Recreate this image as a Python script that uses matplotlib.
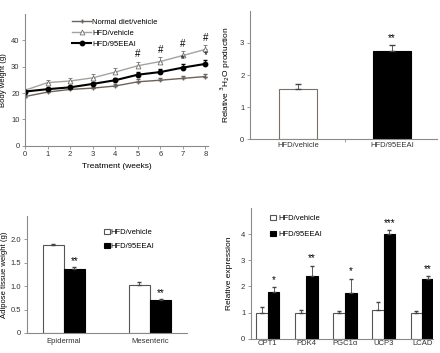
import matplotlib
matplotlib.use("Agg")
import matplotlib.pyplot as plt
import numpy as np

plt.rcParams['font.family'] = ['Liberation Sans', 'DejaVu Sans']
plt.rcParams['font.size'] = 6

# Panel A: body weight
weeks = [0, 1, 2, 3, 4, 5, 6, 7, 8]
normal = [18.7, 20.4, 21.4, 21.9, 22.7, 24.3, 24.9, 25.6, 26.3]
normal_err = [0.5, 0.6, 0.6, 0.6, 0.7, 0.9, 1.0, 1.0, 1.1]
hfd_veh = [21.1, 24.0, 24.6, 25.8, 28.0, 30.4, 32.0, 34.3, 36.6]
hfd_veh_err = [0.5, 0.8, 1.2, 1.3, 1.6, 1.6, 1.7, 1.7, 1.8]
hfd_eeai = [20.6, 21.5, 22.2, 23.5, 24.9, 27.0, 28.0, 29.7, 31.1]
hfd_eeai_err = [0.5, 0.6, 0.6, 0.8, 1.0, 1.1, 1.0, 1.2, 1.4]
hash_weeks = [5, 6, 7, 8]
star_weeks = [7, 8]

# Panel B: 3H2O production
groups_b = ['HFD/vehicle', 'HFD/95EEAI']
prod = [1.55, 2.75]
prod_err = [0.18, 0.2]

# Panel C: adipose tissue weight
tissues = ['Epidermal', 'Mesenteric']
adip_veh = [1.87, 1.03]
adip_veh_err = [0.03, 0.06]
adip_eeai = [1.36, 0.71]
adip_eeai_err = [0.05, 0.02]

# Panel D: relative expression
genes = ['CPT1', 'PDK4', 'PGC1α', 'UCP3', 'LCAD']
expr_veh = [1.0, 1.0, 1.0, 1.1, 1.0]
expr_veh_err = [0.2, 0.1, 0.05, 0.3, 0.08]
expr_eeai = [1.78, 2.4, 1.75, 4.0, 2.3]
expr_eeai_err = [0.2, 0.4, 0.55, 0.15, 0.1]
expr_sig = ['*', '**', '*', '***', '**']

axcol = '#8a8a8a'
fig = plt.figure(figsize=(4.4, 3.53), dpi=100)

def up(err):
    return [np.zeros(len(err)), err]

def style(ax):
    for s in ['top', 'right']:
        ax.spines[s].set_visible(False)
    for s in ['left', 'bottom']:
        ax.spines[s].set_color(axcol)
        ax.spines[s].set_linewidth(0.8)
    ax.tick_params(colors='#333333', length=2, width=0.6, labelsize=5.5, pad=2)
    ax.tick_params(axis='both', color=axcol)

ekw = dict(ecolor='#444444', elinewidth=0.6, capsize=1.5)

# A
ax1 = fig.add_axes([0.057, 0.587, 0.415, 0.373])
l1 = ax1.errorbar(weeks, normal, yerr=up(normal_err), color='#6e625a', marker='+', ms=3, lw=1.0,
                  capsize=1.5, elinewidth=0.6)
l2 = ax1.errorbar(weeks, hfd_veh, yerr=up(hfd_veh_err), color='#a8a29c', marker='^', ms=3.5, mfc='white',
                  mec='#707070', mew=0.6, lw=1.0, capsize=1.5, elinewidth=0.6, ecolor='#707070')
l3 = ax1.errorbar(weeks, hfd_eeai, yerr=up(hfd_eeai_err), color='black', marker='o', ms=3.2, lw=1.5,
                  capsize=1.5, elinewidth=0.6)
for wk in hash_weeks:
    ax1.text(wk, hfd_veh[wk] + hfd_veh_err[wk] + 0.8, '#', ha='center', va='bottom', fontsize=7)
for wk in star_weeks:
    ax1.text(wk, hfd_eeai[wk] + hfd_eeai_err[wk] + 0.1, '*', ha='center', va='bottom', fontsize=7)
ax1.set_xlim(0, 8.1)
ax1.set_ylim(0, 50)
ax1.set_yticks([0, 10, 20, 30, 40])
ax1.set_xticks(weeks)
ax1.set_xlabel('Treatment (weeks)', fontsize=6, labelpad=3)
ax1.set_ylabel('Body weight (g)', fontsize=5.5)
ax1.yaxis.set_label_coords(-0.1, 0.5)
ax1.legend([l1[0], l2[0], l3[0]], ['Normal diet/vehicle', 'HFD/vehicle', 'HFD/95EEAI'],
           loc='upper left', bbox_to_anchor=(0.22, 1.02), frameon=False, fontsize=5.5,
           handlelength=2.5, labelspacing=0.5, handletextpad=0.1)
style(ax1)

# B
ax2 = fig.add_axes([0.568, 0.606, 0.425, 0.363])
xb = np.arange(len(groups_b))
ax2.bar(xb, prod, width=0.4, color=['white', 'black'], edgecolor=['#7a6e66', 'black'], linewidth=0.8,
        yerr=up(prod_err), error_kw=dict(ecolor='#444444', elinewidth=0.6, capsize=2))
ax2.text(1, prod[1] + prod_err[1] + 0.05, '**', ha='center', va='bottom', fontsize=7)
ax2.set_xlim(-0.51, 1.48)
ax2.set_ylim(0, 4)
ax2.set_yticks([0, 1, 2, 3])
ax2.set_xticks(xb)
ax2.set_xticklabels(groups_b, fontsize=6)
ax2.set_xticks([0.5], minor=True)
ax2.set_ylabel(r'Relative $^{3}$H$_{2}$O production', fontsize=6)
ax2.yaxis.set_label_coords(-0.09, 0.5)
style(ax2)
ax2.tick_params(axis='x', which='major', length=0)
ax2.tick_params(axis='x', which='minor', length=2, color=axcol)

# C
ax3 = fig.add_axes([0.061, 0.057, 0.364, 0.331])
xc = np.arange(len(tissues))
w = 0.245
ax3.bar(xc - w / 2, adip_veh, width=w, color='white', edgecolor='#555555', linewidth=0.8,
        yerr=up(adip_veh_err), error_kw=ekw, label='HFD/vehicle')
ax3.bar(xc + w / 2, adip_eeai, width=w, color='black', edgecolor='black', linewidth=0.8,
        yerr=up(adip_eeai_err), error_kw=ekw, label='HFD/95EEAI')
for i in range(len(tissues)):
    ax3.text(xc[i] + w / 2, adip_eeai[i] + adip_eeai_err[i] + 0.02, '**', ha='center', va='bottom', fontsize=7)
ax3.set_xlim(-0.43, 1.43)
ax3.set_ylim(0, 2.5)
ax3.set_yticks([0, 0.5, 1.0, 1.5, 2.0])
ax3.set_yticklabels(['0', '0.5', '1.0', '1.5', '2.0'])
ax3.set_xticks(xc)
ax3.set_xticklabels(tissues, fontsize=6)
ax3.set_ylabel('Adipose tissue weight (g)', fontsize=5.5)
ax3.yaxis.set_label_coords(-0.12, 0.5)
ax3.legend(loc='upper left', bbox_to_anchor=(0.44, 0.95), frameon=False, fontsize=5.5,
           handlelength=0.7, handleheight=0.7, handletextpad=0.1, labelspacing=0.9)
style(ax3)
ax3.tick_params(axis='x', length=0, pad=4)

# D
ax4 = fig.add_axes([0.570, 0.040, 0.414, 0.371])
xd = np.arange(len(genes))
w = 0.3
ax4.bar(xd - w / 2, expr_veh, width=w, color='white', edgecolor='#555555', linewidth=0.8,
        yerr=up(expr_veh_err), error_kw=ekw, label='HFD/vehicle')
ax4.bar(xd + w / 2, expr_eeai, width=w, color='black', edgecolor='black', linewidth=0.8,
        yerr=up(expr_eeai_err), error_kw=ekw, label='HFD/95EEAI')
for i in range(len(genes)):
    ax4.text(xd[i] + w / 2, expr_eeai[i] + expr_eeai_err[i] + 0.08, expr_sig[i], ha='center', va='bottom', fontsize=7)
ax4.set_xlim(-0.44, 4.28)
ax4.set_ylim(0, 5)
ax4.set_yticks([0, 1, 2, 3, 4])
ax4.set_xticks(xd)
ax4.set_xticklabels(genes, fontsize=6)
ax4.set_ylabel('Relative expression', fontsize=6)
ax4.yaxis.set_label_coords(-0.1, 0.5)
ax4.legend(loc='upper left', bbox_to_anchor=(0.07, 1.0), frameon=False, fontsize=5.5,
           handlelength=0.7, handleheight=0.7, handletextpad=0.3, labelspacing=1.1)
style(ax4)
ax4.tick_params(axis='x', length=0, pad=1)

fig.savefig('out.png', dpi=100)
